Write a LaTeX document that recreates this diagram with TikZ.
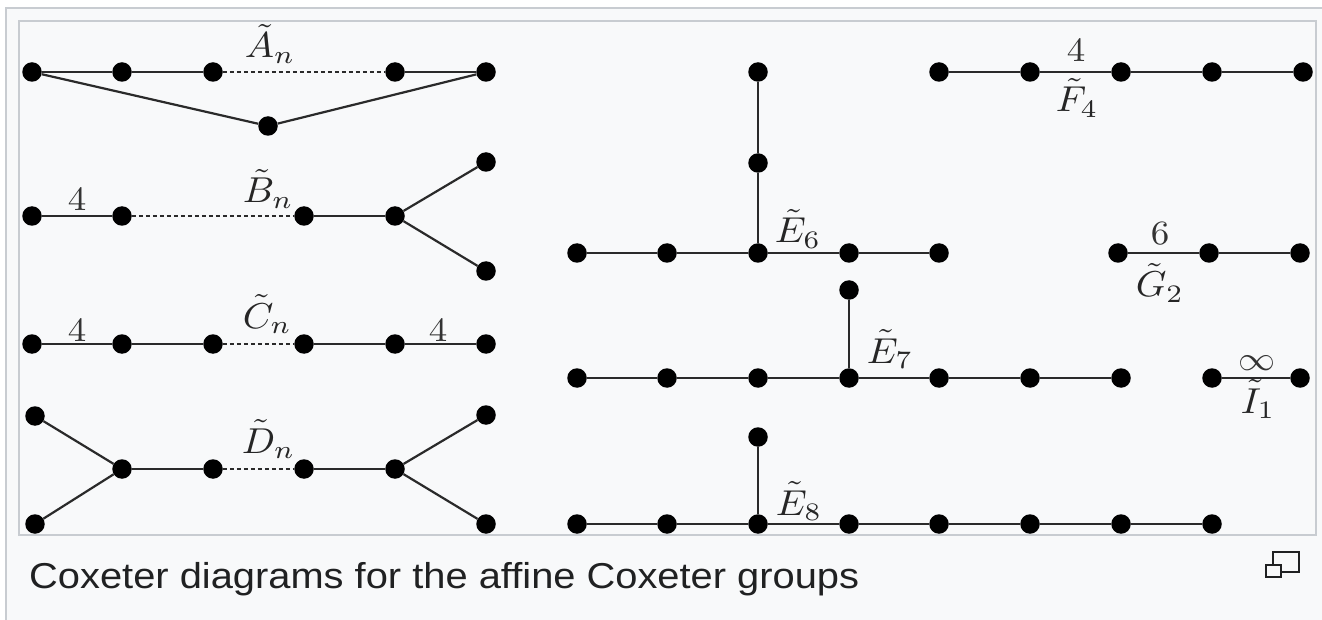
\documentclass[tikz,border=0pt]{standalone}
\usepackage{fontspec}
\newfontfamily\capfont{Liberation Sans}
\definecolor{bgc}{HTML}{F8F9FA}
\definecolor{frc}{HTML}{C8CCD1}
\definecolor{edc}{HTML}{2A2A2A}
\definecolor{txc}{HTML}{202122}
\tikzset{
  dot/.style={circle,fill=black,inner sep=0pt,minimum size=19.5pt},
  edge/.style={draw=edc,line width=2.2pt},
  dotted edge/.style={draw=edc,line width=2.2pt,dash pattern=on 4pt off 3pt},
  lab/.style={inner sep=0pt,anchor=base west,xscale=3.9,yscale=3.6,text=black!85},
  num/.style={inner sep=0pt,anchor=base,xscale=3.7,yscale=3.4,text=black!80},
}
\begin{document}
\begin{tikzpicture}[x=1pt,y=-1pt]
\useasboundingbox (0,0) rectangle (1322,620);
\fill[white] (0,0) rectangle (1322,620);
\draw[frc,fill=bgc,line width=1.6pt] (6,8) rectangle (1340,640);
\draw[frc,fill=bgc,line width=1.6pt] (19,21) rectangle (1316,535);

% A_n
\foreach \n/\x in {1/32,2/122,3/213,4/395,5/486} \node[dot] (a\n) at (\x,72) {};
\node[dot] (a6) at (268,126) {};
\draw[edge] (a1)--(a2); \draw[edge] (a2)--(a3); \draw[dotted edge] (a3)--(a4); \draw[edge] (a4)--(a5);
\draw[edge] (a1)--(a6); \draw[edge] (a6)--(a5);
\node[lab] (la) at (244,58) {$\tilde{A}_n$};

% B_n
\foreach \n/\x in {1/32,2/122,3/304,4/395} \node[dot] (b\n) at (\x,216) {};
\node[dot] (b5) at (486,162) {};
\node[dot] (b6) at (486,271) {};
\draw[edge] (b1)--(b2); \draw[dotted edge] (b2)--(b3); \draw[edge] (b3)--(b4);
\draw[edge] (b4)--(b5); \draw[edge] (b4)--(b6);
\node[num] (lb4) at (77,211) {4};
\node[lab] (lb) at (242,203) {$\tilde{B}_n$};

% C_n
\foreach \n/\x in {1/32,2/122,3/213,4/304,5/395,6/486} \node[dot] (c\n) at (\x,344) {};
\draw[edge] (c1)--(c2); \draw[edge] (c2)--(c3); \draw[dotted edge] (c3)--(c4); \draw[edge] (c4)--(c5); \draw[edge] (c5)--(c6);
\node[num] (lc4a) at (77,341) {4};
\node[num] (lc4b) at (438,341) {4};
\node[lab] (lc) at (242,328) {$\tilde{C}_n$};

% D_n
\foreach \n/\x in {1/122,2/213,3/304,4/395} \node[dot] (d\n) at (\x,469) {};
\node[dot] (d5) at (35,416) {};
\node[dot] (d6) at (35,524) {};
\node[dot] (d7) at (486,415) {};
\node[dot] (d8) at (486,524) {};
\draw[edge] (d1)--(d2); \draw[dotted edge] (d2)--(d3); \draw[edge] (d3)--(d4);
\draw[edge] (d5)--(d1); \draw[edge] (d6)--(d1); \draw[edge] (d4)--(d7); \draw[edge] (d4)--(d8);
\node[lab] (ld) at (241,453) {$\tilde{D}_n$};

% E6
\foreach \n/\x in {1/577,2/667,3/758,4/849,5/939} \node[dot] (e\n) at (\x,253) {};
\node[dot] (e6) at (758,163) {};
\node[dot] (e7) at (758,72) {};
\draw[edge] (e1)--(e2); \draw[edge] (e2)--(e3); \draw[edge] (e3)--(e4); \draw[edge] (e4)--(e5);
\draw[edge] (e3)--(e6); \draw[edge] (e6)--(e7);
\node[lab] (le6) at (774,243) {$\tilde{E}_6$};

% E7
\foreach \n/\x in {1/577,2/667,3/758,4/849,5/939,6/1030,7/1121} \node[dot] (f\n) at (\x,378) {};
\node[dot] (f8) at (849,290) {};
\draw[edge] (f1)--(f2); \draw[edge] (f2)--(f3); \draw[edge] (f3)--(f4); \draw[edge] (f4)--(f5); \draw[edge] (f5)--(f6); \draw[edge] (f6)--(f7);
\draw[edge] (f4)--(f8);
\node[lab] (le7) at (866,363) {$\tilde{E}_7$};

% E8
\foreach \n/\x in {1/577,2/667,3/758,4/849,5/939,6/1030,7/1121,8/1212} \node[dot] (g\n) at (\x,524) {};
\node[dot] (g9) at (758,437) {};
\draw[edge] (g1)--(g2); \draw[edge] (g2)--(g3); \draw[edge] (g3)--(g4); \draw[edge] (g4)--(g5); \draw[edge] (g5)--(g6); \draw[edge] (g6)--(g7); \draw[edge] (g7)--(g8);
\draw[edge] (g3)--(g9);
\node[lab] (le8) at (775,515) {$\tilde{E}_8$};

% F4
\foreach \n/\x in {1/939,2/1030,3/1121,4/1212,5/1303} \node[dot] (h\n) at (\x,72) {};
\draw[edge] (h1)--(h2); \draw[edge] (h2)--(h3); \draw[edge] (h3)--(h4); \draw[edge] (h4)--(h5);
\node[num] (lf4) at (1076,62) {4};
\node[lab] (lf) at (1055,112) {$\tilde{F}_4$};

% G2
\foreach \n/\x in {1/1118,2/1209,3/1300} \node[dot] (k\n) at (\x,253) {};
\draw[edge] (k1)--(k2); \draw[edge] (k2)--(k3);
\node[num] (lg6) at (1160,245) {6};
\node[lab] (lg) at (1135,297) {$\tilde{G}_2$};

% I1
\node[dot] (i1) at (1212,378) {};
\node[dot] (i2) at (1300,378) {};
\draw[edge] (i1)--(i2);
\node[num] (linf) at (1257,370) {$\infty$};
\node[lab] (li) at (1240,413) {$\tilde{I}_1$};

% caption
\node[inner sep=0pt,anchor=base west,xscale=1.107,font=\capfont\fontsize{36}{40}\selectfont,text=txc] (cap) at (29,588) {Coxeter diagrams for the affine Coxeter groups};

% enlarge icon
\draw[txc,line width=2pt] (1273,552) rectangle (1299,572);
\draw[txc,fill=bgc,line width=2pt] (1266,565) rectangle (1281,577);
\end{tikzpicture}
\end{document}
